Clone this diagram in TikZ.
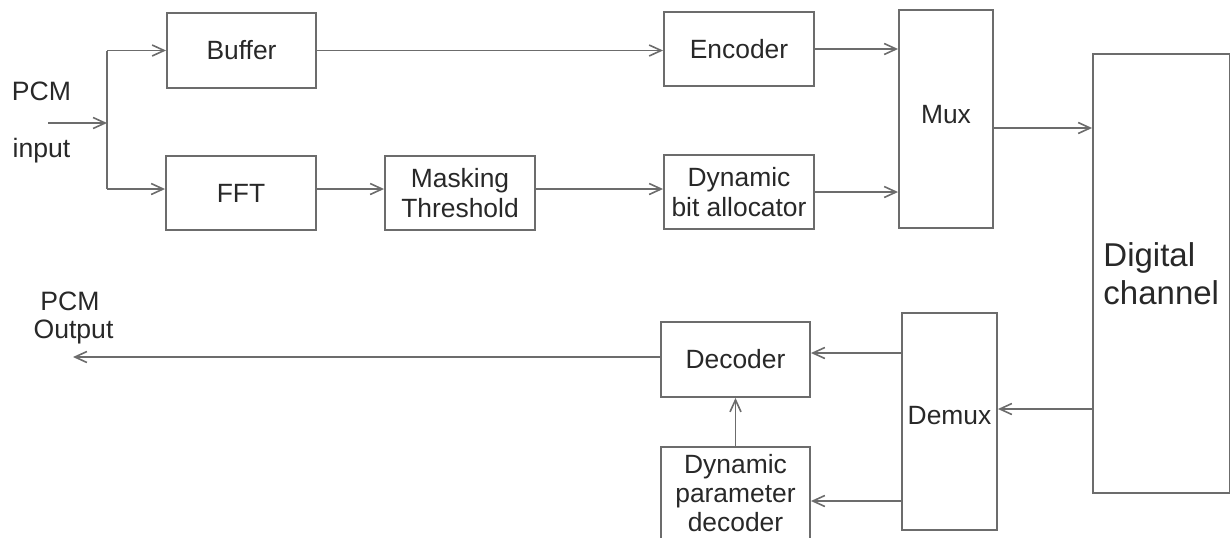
\documentclass[tikz,border=0pt]{standalone}
\usepackage{fontspec}
\setmainfont{Liberation Sans}
\usetikzlibrary{arrows.meta}
\definecolor{linegray}{RGB}{108,108,108}
\definecolor{textgray}{RGB}{40,40,40}
\begin{document}
\begin{tikzpicture}[x=0.5pt,y=-0.5pt,
  box/.style={draw=linegray, line width=0.95pt, inner sep=0pt, align=center,
    text=textgray, font=\fontsize{13.2}{15.4}\selectfont},
  lbl/.style={inner sep=0pt, text=textgray, font=\fontsize{13.3}{15}\selectfont},
  conn/.style={draw=linegray, line width=0.95pt},
  arr/.style={conn, -{Straight Barb[length=6pt,width=5.5pt,line width=0.8pt]}}]
\useasboundingbox (0,0) rectangle (1231,537);
\clip (0,0) rectangle (1231,537);
% boxes
\node[box, minimum width=74.5pt, minimum height=37.5pt] (Buf) at (241.5,50.5) {Buffer};
\node[box, minimum width=75pt, minimum height=37pt] (FFT) at (241,193) {FFT};
\node[box, minimum width=75pt, minimum height=37pt] (Mask) at (460,193) {Masking\\Threshold};
\node[box, minimum width=75pt, minimum height=37pt] (Enc) at (739,49) {Encoder};
\node[box, minimum width=75pt, minimum height=37pt] (DBA) at (739,192) {Dynamic\\bit allocator};
\node[box, minimum width=47pt, minimum height=109pt] (Mux) at (946,119) {\raisebox{4.5pt}{Mux}};
\node[box, minimum width=68.25pt, minimum height=219.5pt, align=left,
  font=\fontsize{16.5}{19}\selectfont] (DC) at (1161.25,273.5) {Digital\\channel};
\node[box, minimum width=47.5pt, minimum height=108.5pt] (Demux) at (949.5,421.5) {\raisebox{6pt}{Demux}};
\node[box, minimum width=74.5pt, minimum height=37.5pt] (Dec) at (735.5,359.5) {Decoder};
\node[box, minimum width=74.5pt, minimum height=46.5pt, font=\fontsize{13.2}{14.5}\selectfont] (DPD) at (735.5,493.5) {Dynamic\\parameter\\decoder};
% labels
\node[lbl, anchor=base] (pcmin1) at (41.5,100) {PCM};
\node[lbl, anchor=base] (pcmin2) at (41.5,157) {input};
\node[lbl, anchor=base] (pcmout1) at (70,310) {PCM};
\node[lbl, anchor=base] (pcmout2) at (73.5,338) {Output};
% coordinates
\coordinate (in) at (48,123);
\coordinate (split) at (107,123);
\coordinate (fy) at (0,189);
\coordinate (my) at (0,128);
\coordinate (cy) at (0,409);
\coordinate (dy) at (0,353);
\coordinate (py) at (0,501);
\coordinate (out) at (73,357);
% connectors
\draw[arr] (in) -- (split);
\draw[conn] (split |- Buf.west) -- (split |- fy);
\draw[arr] (split |- Buf.west) -- (Buf.west);
\draw[arr] (split |- fy) -- (fy -| FFT.west);
\draw[arr] (Buf.east) -- (Buf.east -| Enc.west);
\draw[arr] (fy -| FFT.east) -- (fy -| Mask.west);
\draw[arr] (fy -| Mask.east) -- (fy -| DBA.west);
\draw[arr] (Enc.east) -- (Enc.east -| Mux.west);
\draw[arr] (DBA.east) -- (DBA.east -| Mux.west);
\draw[arr] (my -| Mux.east) -- (my -| DC.west);
\draw[arr] (cy -| DC.west) -- (cy -| Demux.east);
\draw[arr] (dy -| Demux.west) -- (dy -| Dec.east);
\draw[arr] (py -| Demux.west) -- (py -| DPD.east);
\draw[arr] (DPD.north) -- (DPD.north |- Dec.south);
\draw[arr] (out -| Dec.west) -- (out);
\end{tikzpicture}
\end{document}
